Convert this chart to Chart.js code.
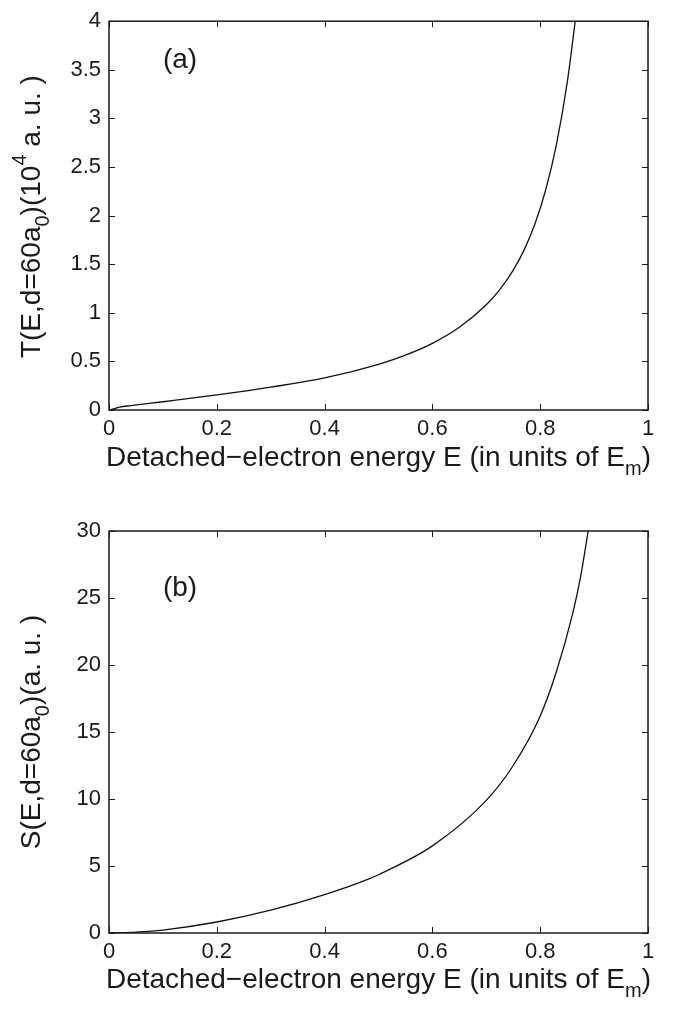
<!DOCTYPE html>
<html><head><meta charset="utf-8">
<script src="https://cdn.jsdelivr.net/npm/chart.js@4.4.0/dist/chart.umd.min.js"></script>
<style>
html,body{margin:0;padding:0;background:#fff;width:679px;height:1010px;overflow:hidden}
canvas{position:absolute;left:0}
</style></head><body>
<canvas id="ca" width="679" height="505" style="top:0"></canvas>
<canvas id="cb" width="679" height="505" style="top:505px"></canvas>
<script>
// ---- data ----
const energyT = [0, 0.01, 0.02, 0.04, 0.1, 0.2, 0.3, 0.4, 0.5, 0.55, 0.6, 0.65, 0.7, 0.725, 0.75, 0.77, 0.79, 0.81, 0.83, 0.85, 0.865];
const valuesT = [0, 0.015, 0.03, 0.045, 0.085, 0.155, 0.235, 0.33, 0.47, 0.565, 0.686, 0.851, 1.082, 1.238, 1.439, 1.645, 1.911, 2.261, 2.728, 3.366, 4.0];
const energyS = [0, 0.05, 0.1, 0.2, 0.3, 0.4, 0.48, 0.5, 0.6, 0.7, 0.75, 0.8, 0.83, 0.86, 0.875, 0.889];
const valuesS = [0, 0.07, 0.22, 0.82, 1.7, 2.86, 4.0, 4.35, 6.5, 9.9, 12.5, 16.2, 19.5, 23.8, 26.6, 30];
const xTicks = [0, 0.2, 0.4, 0.6, 0.8, 1];
const tTicks = [0, 0.5, 1, 1.5, 2, 2.5, 3, 3.5, 4];
const sTicks = [0, 5, 10, 15, 20, 25, 30];
const xTitle = [{t:'Detached\u2212electron energy E (in units of E'}, {t:'m', sub:true}, {t:')'}];
const tTitle = [{t:'T(E,d=60a'}, {t:'0', sub:true}, {t:')(10'}, {t:'4', sup:true}, {t:' a. u. )'}];
const sTitle = [{t:'S(E,d=60a'}, {t:'0', sub:true}, {t:')(a. u. )'}];

const FONT = "'Liberation Sans', Arial, Helvetica, sans-serif";
const INK = '#1a1a1a';
const TICK_SIZE = 22, TITLE_SIZE = 28;
Chart.defaults.font.family = FONT;
Chart.defaults.color = INK;

function fontFor(p, size){ return ((p.sub||p.sup) ? Math.round(size*0.72) : size) + 'px ' + FONT; }
function drawRich(ctx, parts, cx, cy, size){
  let w = 0;
  parts.forEach(p => { ctx.font = fontFor(p, size); w += ctx.measureText(p.t).width; });
  let x = cx - w/2;
  ctx.textBaseline = 'middle'; ctx.textAlign = 'left';
  parts.forEach(p => {
    ctx.font = fontFor(p, size);
    const dy = p.sub ? size*0.42 : (p.sup ? -size*0.42 : 0);
    ctx.fillText(p.t, x, cy + dy);
    x += ctx.measureText(p.t).width;
  });
}

const matlabAxes = {
  id: 'matlabAxes',
  afterDatasetsDraw(chart, args, o){
    const ctx = chart.ctx;
    const {left, right, top, bottom} = chart.chartArea;
    const xs = chart.scales.x, ys = chart.scales.y;
    ctx.save();
    ctx.strokeStyle = INK; ctx.lineWidth = 1;
    const L = 6;
    xs.ticks.forEach(t => {
      const px = Math.round(xs.getPixelForValue(t.value)) + 0.5;
      ctx.beginPath(); ctx.moveTo(px, bottom); ctx.lineTo(px, bottom - L);
      ctx.moveTo(px, top); ctx.lineTo(px, top + L); ctx.stroke();
    });
    ys.ticks.forEach(t => {
      const py = Math.round(ys.getPixelForValue(t.value)) + 0.5;
      ctx.beginPath(); ctx.moveTo(left, py); ctx.lineTo(left + L, py);
      ctx.moveTo(right, py); ctx.lineTo(right - L, py); ctx.stroke();
    });
    ctx.lineWidth = 1.5;
    ctx.strokeRect(left, top, right - left, bottom - top);
    ctx.fillStyle = INK;
    drawRich(ctx, o.xTitle, (left + right)/2, o.xTitleY, TITLE_SIZE);
    ctx.save();
    ctx.translate(o.yTitleX, (top + bottom)/2 + o.yShift);
    ctx.rotate(-Math.PI/2);
    drawRich(ctx, o.yTitle, 0, 0, TITLE_SIZE);
    ctx.restore();
    ctx.font = TITLE_SIZE + 'px ' + FONT; ctx.textAlign = 'center'; ctx.textBaseline = 'middle';
    ctx.fillText(o.panel, o.panelX, o.panelY);
    ctx.restore();
  }
};

function makeChart(id, ex, vals, yTicks, yMax, padTop, xH, opts){
  return new Chart(document.getElementById(id), {
    type: 'line',
    data: { datasets: [{
      data: ex.map((e, i) => ({x: e, y: vals[i]})),
      borderColor: '#111', borderWidth: 1.3, pointRadius: 0, fill: false,
      cubicInterpolationMode: 'monotone'
    }]},
    options: {
      responsive: false, animation: false, devicePixelRatio: 1,
      layout: { autoPadding: false, padding: {top: padTop, right: 31, bottom: 0, left: 0} },
      plugins: { legend: {display: false}, tooltip: {enabled: false}, matlabAxes: opts },
      scales: {
        x: { type: 'linear', min: 0, max: 1,
             afterBuildTicks: s => { s.ticks = xTicks.map(v => ({value: v})); },
             afterFit: s => { s.height = xH; },
             grid: {display: false, drawTicks: false}, border: {display: false},
             ticks: {font: {size: TICK_SIZE}, color: INK, padding: 6, maxRotation: 0, callback: v => String(v)} },
        y: { type: 'linear', min: 0, max: yMax,
             afterBuildTicks: s => { s.ticks = yTicks.map(v => ({value: v})); },
             afterFit: s => { s.width = 109; },
             grid: {display: false, drawTicks: false}, border: {display: false},
             ticks: {font: {size: TICK_SIZE}, color: INK, padding: 8, callback: v => String(v)} }
      }
    },
    plugins: [matlabAxes]
  });
}

makeChart('ca', energyT, valuesT, tTicks, 4, 6, 95,
  {xTitle: xTitle, yTitle: tTitle, xTitleY: 458, yTitleX: 32, yShift: 1, panel: '(a)', panelX: 180, panelY: 60});
makeChart('cb', energyS, valuesS, sTicks, 30, 26, 77,
  {xTitle: xTitle, yTitle: sTitle, xTitleY: 475, yTitleX: 32, yShift: 0, panel: '(b)', panelX: 180, panelY: 83});
</script>
</body></html>
